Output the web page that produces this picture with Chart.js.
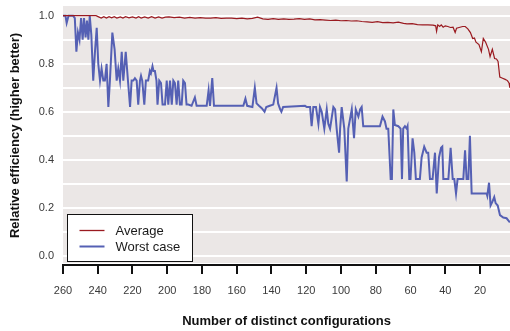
<!DOCTYPE html>
<html>
<head>
<meta charset="utf-8">
<script src="https://cdn.jsdelivr.net/npm/chart.js@4.4.0/dist/chart.umd.min.js"></script>
<style>
html, body { margin: 0; padding: 0; background: #fff; }
</style>
</head>
<body>
<canvas id="chart" width="510" height="331"></canvas>
<script>
// data
const seriesNames = ["Average", "Worst case"];

const avgX = [260, 241, 239.5, 238, 236.5, 235, 233.5, 232, 230.5, 229, 227, 225.5, 224, 222, 220, 218, 216.5, 215, 213, 211,
  209, 207, 205, 203, 201, 199, 196, 193, 190, 187, 184, 181, 178, 175, 172, 169, 166, 163, 160, 157,
  154, 151, 148, 145, 142, 139, 136, 133, 130, 127, 124, 121, 118, 115, 112, 109, 106, 103, 100, 97,
  94, 91, 88, 85, 82, 79, 76, 73, 70, 67, 64, 62, 59, 56, 53, 50, 47, 45.5, 45, 44.3,
  43.2, 42.3, 41.2, 40, 38.5, 37, 35.5, 34.3, 33.5, 31.5, 30, 28.5, 27, 25.5, 24.2, 23.2, 22.3, 20.6, 19.2, 18.1,
  16.8, 15.1, 14.2, 12.9, 11.6, 10.5, 9.6, 8.6, 7, 5.5, 4.2, 3.3, 2.8];
const avgY = [1.0, 1.0, 0.995, 0.99, 0.996, 0.99, 0.996, 0.991, 0.996, 0.99, 0.995, 0.99, 0.996, 0.991, 0.995, 0.99, 0.996, 0.99, 0.995, 0.99,
  0.996, 0.99, 0.995, 0.99, 0.994, 0.995, 0.992, 0.994, 0.99, 0.993, 0.99, 0.992, 0.99, 0.99, 0.992, 0.989, 0.99, 0.99, 0.988, 0.99,
  0.987, 0.989, 0.994, 0.987, 0.985, 0.988, 0.985, 0.987, 0.985, 0.986, 0.988, 0.985, 0.987, 0.983, 0.984, 0.982, 0.98, 0.982, 0.979, 0.98,
  0.978, 0.979, 0.976, 0.974, 0.972, 0.975, 0.971, 0.972, 0.97, 0.973, 0.968, 0.966, 0.967, 0.963, 0.962, 0.962, 0.961, 0.958, 0.935, 0.962,
  0.955, 0.962, 0.952, 0.958, 0.955, 0.951, 0.952, 0.93, 0.948, 0.952, 0.955, 0.955, 0.945, 0.93, 0.905, 0.907, 0.89, 0.88, 0.85, 0.905,
  0.89, 0.86, 0.83, 0.86, 0.822, 0.82, 0.81, 0.745, 0.74, 0.735, 0.73, 0.72, 0.70];

const worstX = [260, 258.6, 257.9, 256.8, 254.2, 253.2, 252.3, 251.4, 250.5, 249.6, 248.7, 247.9, 247, 246.2, 245.4, 244.6, 243.7, 242.6, 241.6, 240.6,
  239.7, 238.7, 237.8, 236.8, 235.9, 234.9, 233.9, 233, 231.6, 230.3, 229.1, 228.2, 227.2, 226.2, 225.3, 223.9, 222.5, 221.4, 220.5, 219.5,
  218.6, 217.6, 216.7, 215.7, 215.1, 214.4, 213.2, 212.3, 211, 210, 209.4, 208.5, 207.9, 207.1, 206.2, 205.6, 204.6, 203.6, 202.7, 201.3,
  200.3, 199.4, 198.4, 197.4, 196.5, 195.6, 194.6, 193.7, 192.7, 191.7, 190.8, 189.8, 188.9, 187.9, 186, 184.1, 183.1, 177.3, 176.2, 175.4,
  174.1, 173.1, 156.2, 155, 154, 151, 149.6, 148.6, 147.2, 145.6, 144, 143, 141, 139, 137.1, 136.2, 135, 134.3, 133.3, 120.7,
  119.7, 117.8, 116.9, 115.9, 114.4, 113, 112.1, 111.1, 109.6, 108.2, 107.3, 106.3, 104.4, 103.4, 102.5, 101.1, 100.5, 99.6, 98.1, 96.7,
  95.8, 93.8, 92.5, 91.5, 90, 89, 88.1, 87.2, 82.4, 81.4, 77.6, 76.1, 74.7, 73.8, 72.8, 71.4, 70.7, 69.9, 69, 67,
  65.7, 64.9, 64.2, 63.2, 62.2, 61.7, 60.7, 60, 58.8, 57.8, 56.9, 54.6, 53.6, 52.1, 50.7, 49.8, 48.8, 47.3, 45.9, 44.9,
  43.6, 42.4, 41.7, 41.1, 38.2, 36.9, 35.7, 34.8, 33.8, 32.9, 29.6, 28.6, 27.7, 26.7, 25.8, 24.8, 16.2, 15.8, 14.8, 13.9,
  12.9, 11.8, 11, 9.8, 8.5, 6.6, 4.7, 2.8];
const worstY = [1.0, 1.0, 0.97, 1.0, 1.0, 0.99, 0.85, 0.93, 0.90, 0.99, 0.90, 0.99, 0.91, 0.98, 0.90, 1.0, 0.92, 0.73, 0.85, 0.95,
  0.80, 0.73, 0.78, 0.73, 0.73, 0.80, 0.62, 0.73, 0.93, 0.86, 0.73, 0.78, 0.73, 0.85, 0.73, 0.85, 0.72, 0.62, 0.73, 0.73,
  0.74, 0.73, 0.63, 0.73, 0.75, 0.73, 0.63, 0.73, 0.73, 0.77, 0.76, 0.79, 0.77, 0.77, 0.73, 0.63, 0.73, 0.72, 0.63, 0.63,
  0.73, 0.63, 0.73, 0.63, 0.73, 0.72, 0.63, 0.73, 0.63, 0.63, 0.73, 0.72, 0.63, 0.63, 0.625, 0.66, 0.625, 0.625, 0.69, 0.625,
  0.74, 0.625, 0.625, 0.655, 0.625, 0.62, 0.70, 0.635, 0.625, 0.615, 0.60, 0.62, 0.625, 0.63, 0.70, 0.635, 0.61, 0.60, 0.62, 0.625,
  0.62, 0.62, 0.54, 0.62, 0.62, 0.55, 0.62, 0.60, 0.53, 0.61, 0.55, 0.53, 0.62, 0.61, 0.53, 0.43, 0.53, 0.62, 0.53, 0.31,
  0.53, 0.61, 0.49, 0.61, 0.58, 0.61, 0.62, 0.54, 0.54, 0.54, 0.54, 0.58, 0.56, 0.53, 0.53, 0.32, 0.32, 0.61, 0.545, 0.54,
  0.53, 0.32, 0.53, 0.54, 0.53, 0.54, 0.32, 0.32, 0.49, 0.43, 0.32, 0.32, 0.41, 0.455, 0.43, 0.43, 0.32, 0.32, 0.43, 0.26,
  0.41, 0.45, 0.455, 0.32, 0.32, 0.45, 0.32, 0.32, 0.26, 0.32, 0.32, 0.44, 0.32, 0.32, 0.50, 0.26, 0.26, 0.25, 0.305, 0.21,
  0.225, 0.245, 0.22, 0.21, 0.17, 0.16, 0.157, 0.14];

const xTicks = [260, 240, 220, 200, 180, 160, 140, 120, 100, 80, 60, 40, 20];
const yTicks = [0, 0.1, 0.2, 0.3, 0.4, 0.5, 0.6, 0.7, 0.8, 0.9, 1.0];
const yTickLabels = ["0.0", "", "0.2", "", "0.4", "", "0.6", "", "0.8", "", "1.0"];

const colors = ["#9a1a20", "#5560b4"];
const fontFamily = '"Liberation Sans", Arial, Helvetica, sans-serif';
const textColor = "#3a3a3a";

Chart.defaults.font.family = fontFamily;

// grey panel behind the lines
const plotBackground = {
  id: "plotBackground",
  beforeDraw(chart) {
    const { ctx, chartArea: a } = chart;
    ctx.save();
    ctx.fillStyle = "#ebe7e6";
    ctx.fillRect(a.left, a.top, a.right - a.left, a.bottom - a.top - 2);
    ctx.restore();
  }
};

// boxed legend at the lower left of the plot
const boxLegend = {
  id: "boxLegend",
  afterDatasetsDraw(chart) {
    const { ctx, chartArea: a } = chart;
    const left = a.left + 4.5, top = a.bottom - 50.5;
    ctx.save();
    ctx.fillStyle = "#ffffff";
    ctx.fillRect(left, top, 125, 47);
    ctx.strokeStyle = "#111111";
    ctx.lineWidth = 1;
    ctx.strokeRect(left, top, 125, 47);
    ctx.font = "13px " + fontFamily;
    ctx.textBaseline = "middle";
    chart.data.datasets.forEach((ds, i) => {
      const y = top + 16 + i * 16;
      ctx.strokeStyle = ds.borderColor;
      ctx.lineWidth = i === 0 ? 1.3 : 2;
      ctx.beginPath();
      ctx.moveTo(left + 12, y);
      ctx.lineTo(left + 37, y);
      ctx.stroke();
      ctx.fillStyle = "#1a1a1a";
      ctx.fillText(ds.label, left + 48, y + 0.5);
    });
    ctx.restore();
  }
};

const toPoints = (xs, ys) => xs.map((x, i) => ({ x: x, y: ys[i] }));

new Chart(document.getElementById("chart"), {
  type: "line",
  data: {
    datasets: [
      {
        label: seriesNames[0],
        data: toPoints(avgX, avgY),
        borderColor: colors[0],
        borderWidth: 1.2,
        pointRadius: 0,
        tension: 0
      },
      {
        label: seriesNames[1],
        data: toPoints(worstX, worstY),
        borderColor: colors[1],
        borderWidth: 2,
        pointRadius: 0,
        tension: 0
      }
    ]
  },
  options: {
    responsive: false,
    animation: false,
    devicePixelRatio: 1,
    layout: { padding: { top: 6, right: 0, left: 0, bottom: 0 } },
    plugins: {
      legend: { display: false },
      tooltip: { enabled: false }
    },
    scales: {
      x: {
        type: "linear",
        reverse: true,
        min: 2.73,
        max: 260,
        afterBuildTicks: s => { s.ticks = xTicks.map(v => ({ value: v })); },
        afterFit: s => { s.height = 66; s.paddingLeft = 0; s.paddingRight = 0; },
        grid: { drawOnChartArea: false, color: "#111111", lineWidth: 2, tickLength: 9 },
        border: { display: true, color: "#111111", width: 2 },
        ticks: {
          autoSkip: false,
          maxRotation: 0,
          padding: 10,
          color: textColor,
          font: { size: 11 },
          callback: v => String(v)
        },
        title: {
          display: true,
          text: "Number of distinct configurations",
          color: "#111111",
          font: { size: 13, weight: "bold" },
          padding: { top: 0, bottom: 2 }
        }
      },
      y: {
        min: -0.0375,
        max: 1.0404,
        afterBuildTicks: s => { s.ticks = yTicks.map(v => ({ value: v })); },
        afterFit: s => { s.width = 63; s.paddingTop = 0; s.paddingBottom = 0; },
        grid: { color: "#ffffff", lineWidth: 2, drawTicks: false },
        border: { display: false },
        ticks: {
          padding: 9,
          color: textColor,
          font: { size: 11 },
          callback: (v, i) => yTickLabels[i]
        },
        title: {
          display: true,
          text: "Relative efficiency (higher better)",
          color: "#111111",
          font: { size: 13, weight: "bold" },
          padding: { top: 8, bottom: 0 }
        }
      }
    }
  },
  plugins: [plotBackground, boxLegend]
});
</script>
</body>
</html>
